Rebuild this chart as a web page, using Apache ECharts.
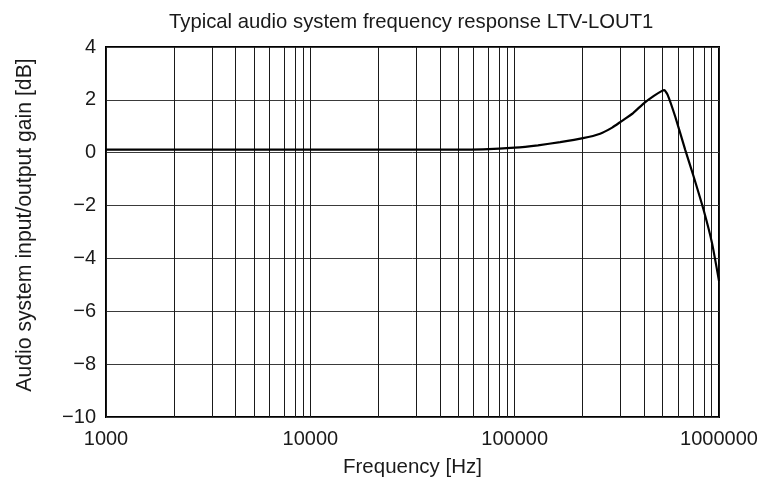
<!DOCTYPE html>
<html>
<head>
<meta charset="utf-8">
<script src="https://cdn.jsdelivr.net/npm/echarts@6/dist/echarts.min.js"></script>
<style>
  html, body {margin: 0; padding: 0; background: #fff;}
  #chart {width: 765px; height: 485px;}
</style>
</head>
<body>
<div id="chart"></div>
<script>
// curve: frequency [Hz] -> gain [dB]
const freqs = [1000, 10000, 50000, 70000, 100000, 130000, 167000, 216000, 262000, 300000,
  330000, 380000, 427000, 480000, 526000, 540000, 560000, 611000, 684000, 752000,
  841000, 925000, 1000000];
const gains = [0.12, 0.12, 0.12, 0.13, 0.19, 0.28, 0.40, 0.55, 0.72, 0.95,
  1.17, 1.5, 1.86, 2.15, 2.34, 2.37, 2.2, 1.36, 0.1, -0.91,
  -2.17, -3.43, -4.85];

// vertical grid lines inside each decade (multiples of the decade start)
const decades = [1000, 10000, 100000];
const minorMults = [2.15, 3.3, 4.3, 5.3, 6.3, 7.45, 8.45, 9.2];

const yTicks = [-10, -8, -6, -4, -2, 0, 2, 4];

const font = 'Liberation Sans, Arial, sans-serif';
const textColor = '#1a1a1a';

const minorLines = [];
decades.forEach(d => minorMults.forEach(m => minorLines.push({xAxis: d * m})));

const chart = echarts.init(document.getElementById('chart'));
chart.setOption({
  animation: false,
  title: {
    text: 'Typical audio system frequency response LTV-LOUT1',
    left: 164,
    top: 7,
    textStyle: {fontFamily: font, fontSize: 20.3, fontWeight: 'normal', color: textColor}
  },
  grid: {
    left: 106, right: 46, top: 47, bottom: 68,
    show: true,
    borderColor: '#000',
    borderWidth: 2
  },
  xAxis: {
    type: 'log',
    logBase: 10,
    min: 1000,
    max: 1000000,
    name: 'Frequency [Hz]',
    nameLocation: 'middle',
    nameGap: 40,
    nameTextStyle: {fontFamily: font, fontSize: 20.5, color: textColor},
    axisLine: {show: false},
    axisTick: {show: false},
    axisLabel: {
      margin: 12,
      fontFamily: font, fontSize: 20, color: textColor,
      formatter: v => String(Math.round(v))
    },
    splitLine: {show: true, lineStyle: {color: '#1a1a1a', width: 1}}
  },
  yAxis: {
    type: 'value',
    min: yTicks[0],
    max: yTicks[yTicks.length - 1],
    interval: 2,
    name: 'Audio system input/output gain [dB]',
    nameLocation: 'middle',
    nameGap: 70,
    nameTextStyle: {fontFamily: font, fontSize: 21.2, color: textColor, padding: [0, 0, 0, 14]},
    axisLine: {show: false},
    axisTick: {show: false},
    axisLabel: {
      margin: 10,
      fontFamily: font, fontSize: 20, color: textColor,
      formatter: v => (v < 0 ? '\u2212' + Math.abs(v) : String(v))
    },
    splitLine: {show: true, lineStyle: {color: '#3a3a3a', width: 1}}
  },
  series: [{
    type: 'line',
    data: freqs.map((f, i) => [f, gains[i]]),
    showSymbol: false,
    smooth: 0.15,
    lineStyle: {color: '#000', width: 2.2},
    z: 5,
    markLine: {
      silent: true,
      symbol: 'none',
      label: {show: false},
      lineStyle: {color: '#1a1a1a', width: 1, type: 'solid'},
      data: minorLines
    }
  }]
});
</script>
</body>
</html>
